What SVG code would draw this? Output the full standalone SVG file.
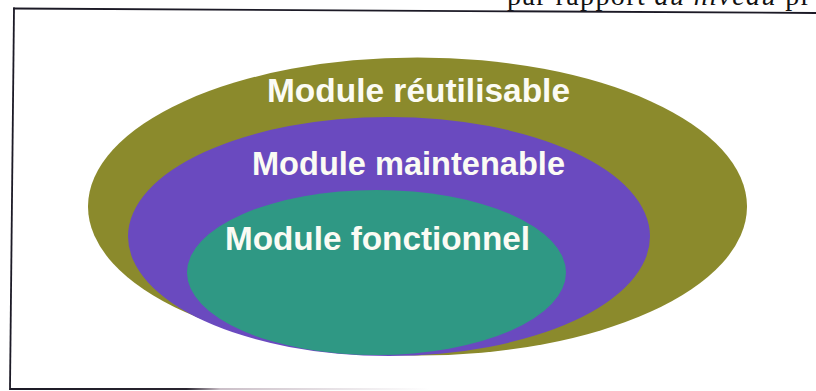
<svg xmlns="http://www.w3.org/2000/svg" width="816" height="391" viewBox="0 0 816 391">
  <defs>
    <style>
      .label { font-family: "Liberation Sans", Arial, sans-serif; font-weight: bold; font-size: 33px; fill: #fbfbf4; }
      .caption { font-family: "Liberation Serif", "Times New Roman", serif; font-size: 28px; fill: #111111; }
      .rule { stroke: #1c1a26; stroke-width: 1.8; fill: none; stroke-linecap: square; }
    </style>
    <linearGradient id="fade" x1="10" y1="0" x2="430" y2="0" gradientUnits="userSpaceOnUse">
      <stop offset="0" stop-color="#1c1a26"/>
      <stop offset="0.42" stop-color="#2a2530"/>
      <stop offset="0.5" stop-color="#cbbfc8"/>
      <stop offset="1" stop-color="#ffffff"/>
    </linearGradient>
  </defs>

  <rect width="816" height="391" fill="#ffffff"/>

  <!-- running text of the page, cut by the top edge -->
  <g id="caption">
    <text class="caption" x="507" y="5" textLength="303" lengthAdjust="spacing">par rapport <tspan font-style="italic">au niveau</tspan> pr</text>
  </g>

  <!-- figure frame: left, top and bottom rules -->
  <g id="frame">
    <line class="rule" x1="14" y1="8.5" x2="816" y2="13"/>
    <line class="rule" x1="14" y1="8.5" x2="10" y2="389"/>
    <line x1="10" y1="389" x2="430" y2="389" stroke="url(#fade)" stroke-width="1.8"/>
  </g>

  <!-- nested module levels -->
  <g id="module-reutilisable">
    <ellipse cx="417.5" cy="206.5" rx="329.5" ry="149" fill="#8b8a2c"/>
    <text class="label" x="267" y="102" textLength="303" lengthAdjust="spacingAndGlyphs">Module réutilisable</text>
  </g>

  <g id="module-maintenable">
    <ellipse cx="389" cy="236.5" rx="261" ry="119.5" fill="#6a4abf"/>
    <text class="label" x="252" y="175" textLength="313" lengthAdjust="spacingAndGlyphs">Module maintenable</text>
  </g>

  <g id="module-fonctionnel">
    <ellipse cx="376.5" cy="272.5" rx="189.5" ry="82.5" fill="#2f9884"/>
    <text class="label" x="225" y="250" textLength="305" lengthAdjust="spacingAndGlyphs">Module fonctionnel</text>
  </g>
</svg>
